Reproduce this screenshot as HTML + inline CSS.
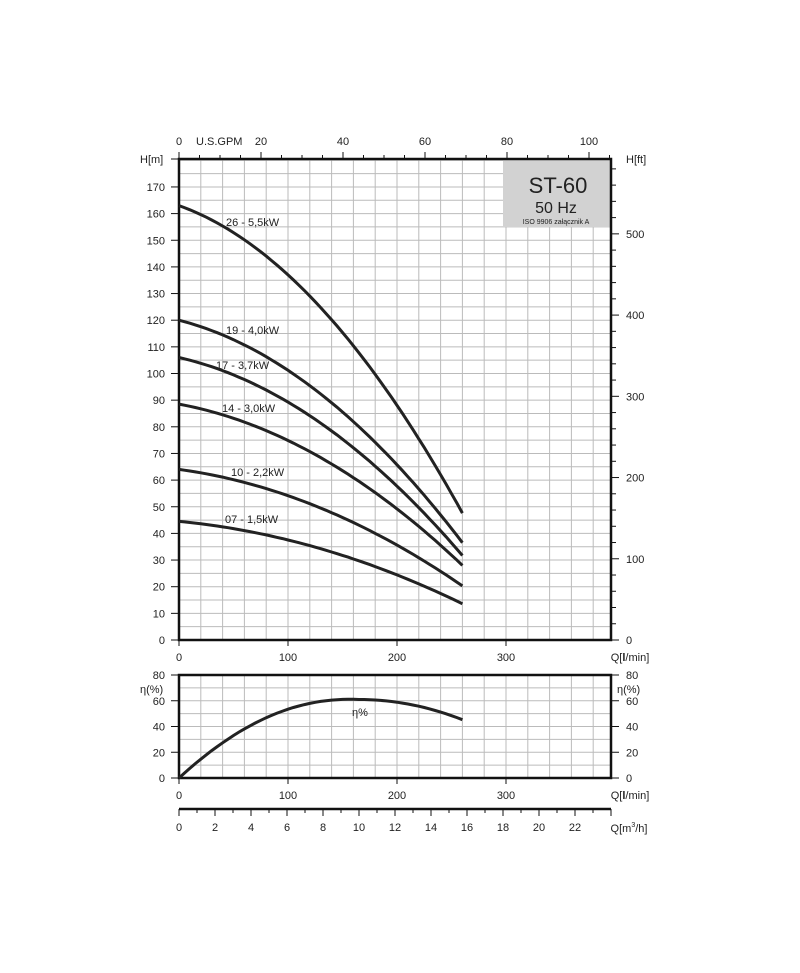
<!DOCTYPE html>
<html><head><meta charset="utf-8"><style>
body{margin:0;background:#fff}
svg text{font-family:"Liberation Sans",sans-serif;fill:#222}
</style></head><body>
<svg id="s" width="800" height="968" xmlns="http://www.w3.org/2000/svg"></svg>
<script>
const s=document.getElementById('s');let h='';
const L=179,R=611,T=159,B=640,qx=q=>L+q*1.09,hy=m=>B-m*2.665;
// main grid
for(let q=20;q<400;q+=20)h+=`<line x1="${qx(q)}" y1="${T}" x2="${qx(q)}" y2="${B}" stroke="#bbb" stroke-width="1"/>`;
for(let m=5;m<181;m+=5)if(hy(m)>T)h+=`<line x1="${L}" y1="${hy(m)}" x2="${R}" y2="${hy(m)}" stroke="#bbb" stroke-width="1"/>`;
h+=`<rect x="503" y="${T}" width="${R-503}" height="68" fill="#d2d2d2"/>`;
h+=`<text x="558" y="193" font-size="22" text-anchor="middle">ST-60</text><text x="556" y="213" font-size="16" text-anchor="middle">50 Hz</text><text x="556" y="224" font-size="7" text-anchor="middle">ISO 9906 załącznik A</text>`;
h+=`<rect x="${L}" y="${T}" width="${R-L}" height="${B-T}" fill="none" stroke="#111" stroke-width="2.5"/>`;
// left ticks
for(let m=0;m<=170;m+=10){h+=`<line x1="${L-8}" y1="${hy(m)}" x2="${L}" y2="${hy(m)}" stroke="#111"/><text x="${L-14}" y="${hy(m)+4}" font-size="11" text-anchor="end">${m}</text>`;}
h+=`<line x1="${L-8}" y1="${T}" x2="${L}" y2="${T}" stroke="#111"/><text x="140" y="163" font-size="11">H[m]</text>`;
// right ft
for(let f=0;f<=580;f+=20){const y=B-f*0.3048*2.665;if(y<T)break;const mj=f%100==0;h+=`<line x1="${R}" y1="${y}" x2="${R+(mj?8:5)}" y2="${y}" stroke="#111"/>`;if(mj)h+=`<text x="${R+15}" y="${y+4}" font-size="11">${f}</text>`;}
h+=`<text x="626" y="163" font-size="11">H[ft]</text>`;
// top GPM
for(let g=0;g<=105;g+=5){const x=L+g*4.1;h+=`<line x1="${x}" y1="${T}" x2="${x}" y2="${T-(g%20==0?7:4)}" stroke="#111"/>`;if(g%20==0)h+=`<text x="${x}" y="145" font-size="11" text-anchor="middle">${g}</text>`;}
h+=`<text x="196" y="145" font-size="11">U.S.GPM</text>`;
// bottom Q
function qaxis(y){for(let q=0;q<=300;q+=100)h+=`<line x1="${qx(q)}" y1="${y}" x2="${qx(q)}" y2="${y+6}" stroke="#111"/><text x="${qx(q)}" y="${y+21}" font-size="11" text-anchor="middle">${q}</text>`;h+=`<text x="630" y="${y+21}" font-size="11" text-anchor="middle">Q[<tspan font-weight="bold">l</tspan>/min]</text>`;}
qaxis(B);
// curves
const a=0.145,b=0.00115,f=q=>a*q+b*q*q;
[[163,47.6],[120,36.5],[106,31.7],[88.5,28],[64,20.3],[44.5,13.6]].forEach(([h0,he])=>{const k=(h0-he)/f(260);let d='';for(let q=0;q<=260;q+=5)d+=(q?'L':'M')+qx(q).toFixed(1)+','+hy(h0-k*f(q)).toFixed(1);h+=`<path d="${d}" fill="none" stroke="#222" stroke-width="3"/>`;});
[["26 - 5,5kW",226,226],["19 - 4,0kW",226,334],["17 - 3,7kW",216,369],["14 - 3,0kW",222,412],["10 - 2,2kW",231,476],["07 - 1,5kW",225,523]].forEach(([t,x,y])=>h+=`<text x="${x}" y="${y}" font-size="11">${t}</text>`);
// efficiency
const ET=675,EB=778,ey=e=>EB-e*1.2875;
for(let q=20;q<400;q+=20)h+=`<line x1="${qx(q)}" y1="${ET}" x2="${qx(q)}" y2="${EB}" stroke="#bbb"/>`;
for(let e=10;e<80;e+=10)h+=`<line x1="${L}" y1="${ey(e)}" x2="${R}" y2="${ey(e)}" stroke="#bbb"/>`;
h+=`<rect x="${L}" y="${ET}" width="${R-L}" height="${EB-ET}" fill="none" stroke="#111" stroke-width="2.5"/>`;
for(let e=0;e<=80;e+=20){h+=`<line x1="${L-8}" y1="${ey(e)}" x2="${L}" y2="${ey(e)}" stroke="#111"/><text x="${L-14}" y="${ey(e)+4}" font-size="11" text-anchor="end">${e}</text><line x1="${R}" y1="${ey(e)}" x2="${R+8}" y2="${ey(e)}" stroke="#111"/><text x="${R+15}" y="${ey(e)+4}" font-size="11">${e}</text>`;}
h+=`<text x="140" y="693" font-size="11">η(%)</text><text x="617" y="693" font-size="11">η(%)</text>`;
qaxis(EB);
let d='';for(let q=0;q<=260;q+=5){const u=q/165;const e=61*(2*u-u*u)+ (q>165?4.5*((q-165)/95)**2:0)+ (q<165?2*Math.sin(Math.PI*q/165):0);d+=(q?'L':'M')+qx(q).toFixed(1)+','+ey(e).toFixed(1);}
h+=`<path d="${d}" fill="none" stroke="#222" stroke-width="3"/><text x="352" y="716" font-size="11">η%</text>`;
// m3/h
const my=809;h+=`<line x1="${L}" y1="${my}" x2="${R}" y2="${my}" stroke="#111" stroke-width="2.5"/>`;
for(let m=0;m<=24;m++){const x=L+m*18;h+=`<line x1="${x}" y1="${my}" x2="${x}" y2="${my+(m%2==0||m==24?7:4)}" stroke="#111"/>`;if(m%2==0&&m<24)h+=`<text x="${x}" y="831" font-size="11" text-anchor="middle">${m}</text>`;}
h+=`<text x="629" y="832" font-size="11" text-anchor="middle">Q[m<tspan font-size="7" dy="-5">3</tspan><tspan dy="5">/h]</tspan></text>`;
s.innerHTML=h;
</script>
</body></html>
